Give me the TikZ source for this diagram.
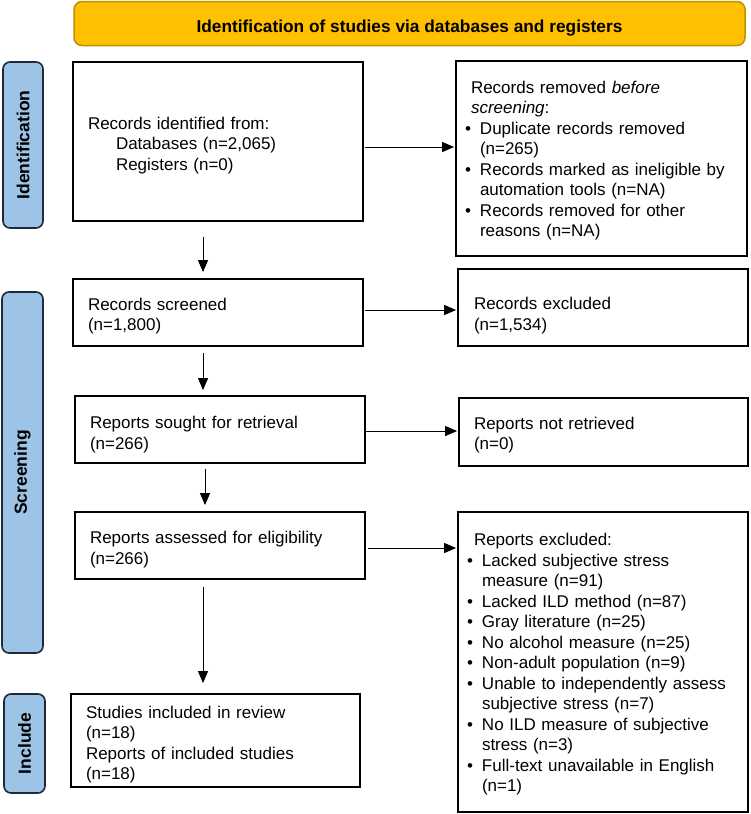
\documentclass[tikz,border=0pt]{standalone}
\usepackage{fontspec}
\setmainfont{Liberation Sans}
\usetikzlibrary{arrows.meta,calc}
\definecolor{gold}{HTML}{FFC000}
\definecolor{goldline}{HTML}{BF9000}
\definecolor{phasefill}{HTML}{9DC3E6}
\definecolor{phaseline}{HTML}{1F2A38}
\newcommand{\bul}[1]{\par\noindent\hangindent=15pt\hangafter=1\makebox[15pt][l]{\textbullet}#1\par}
\begin{document}
\begin{tikzpicture}[x=1pt,y=-1pt,
  every node/.style={font=\fontsize{17}{20.5}\selectfont},
  bx/.style={draw=black, line width=1.8pt, inner xsep=15pt, inner ysep=0pt, align=left,
    text height=20pt, execute at begin node={\parindent=0pt}},
  lst/.style={draw=black, line width=1.8pt, inner xsep=9pt, inner ysep=0pt, align=left,
    text height=17pt, execute at begin node={\parindent=0pt}},
  phase/.style={draw=phaseline, fill=phasefill, rounded corners=7pt, line width=1.6pt,
    rotate=90, inner sep=0pt, font=\fontsize{17.5}{20.5}\selectfont\bfseries},
  arr/.style={-{Triangle[length=12pt,width=10pt]}, line width=1pt, draw=black}
]
\useasboundingbox (0,0) rectangle (750,814);

% header
\node[draw=goldline, fill=gold, rounded corners=8pt, line width=1.5pt,
  minimum width=671pt, minimum height=44pt, inner sep=0pt, text height=21pt,
  font=\fontsize{17.3}{20}\selectfont\bfseries] (hdr) at (409.5,23.5)
  {Identification of studies via databases and registers};

% phase labels
\node[phase, minimum width=166pt, minimum height=40pt] (pid) at (23,145) {Identification};
\node[phase, minimum width=361pt, minimum height=41pt] (psc) at (22.5,472.5) {Screening};
\node[phase, minimum width=99pt, minimum height=41pt] (pin) at (24.5,743.5) {Include};

% left column
\node[bx, text width=260pt, minimum height=159pt] (b1) at (218,141.5)
  {Records identified from:\\\hspace*{28pt}Databases (n=2,065)\\\hspace*{28pt}Registers (n=0)};
\node[bx, text width=260pt, minimum height=67pt] (b2) at (218,312.5)
  {Records screened\\(n=1,800)};
\node[bx, text width=260pt, minimum height=67pt, text height=23pt] (b3) at (220,429.5)
  {Reports sought for retrieval\\(n=266)};
\node[bx, text width=260pt, minimum height=67pt, text height=21pt] (b4) at (220,545.5)
  {Reports assessed for eligibility\\(n=266)};
\node[bx, text width=259pt, minimum height=93pt, text height=21pt] (b5) at (215.5,740.5)
  {Studies included in review\\(n=18)\\Reports of included studies\\(n=18)};

% right column
\node[lst, text width=273pt, minimum height=195pt] (r1) at (601.5,158.5)
  {\hspace*{6pt}Records removed \textit{before}\newline\hspace*{6pt}\textit{screening}:\par
   \bul{Duplicate records removed\newline(n=265)}
   \bul{Records marked as ineligible by\newline automation tools (n=NA)}
   \bul{Records removed for other\newline reasons (n=NA)}};
\node[bx, inner xsep=16pt, text width=258pt, minimum height=77pt, text height=29pt] (r2) at (603,307.5)
  {Records excluded\\(n=1,534)};
\node[bx, text width=259pt, minimum height=68pt, text height=19pt] (r3) at (603.5,432)
  {Reports not retrieved\\(n=0)};
\node[lst, text width=272pt, minimum height=300pt] (r4) at (603,662)
  {\hspace*{7pt}Reports excluded:\par
   \bul{Lacked subjective stress\newline measure (n=91)}
   \bul{Lacked ILD method (n=87)}
   \bul{Gray literature (n=25)}
   \bul{No alcohol measure (n=25)}
   \bul{Non-adult population (n=9)}
   \bul{Unable to independently assess\newline subjective stress (n=7)}
   \bul{No ILD measure of subjective\newline stress (n=3)}
   \bul{Full-text unavailable in English\newline(n=1)}};

% horizontal connectors
\coordinate (h1) at (0,147);
\coordinate (h2) at (0,310);
\coordinate (h3) at (0,431);
\coordinate (h4) at (0,548);
\draw[arr, shorten <=1pt, shorten >=1pt] (b1.east |- h1) -- (r1.west |- h1);
\draw[arr, shorten <=1pt, shorten >=1pt] (b2.east |- h2) -- (r2.west |- h2);
\draw[arr, shorten >=1pt] (b3.east |- h3) -- (r3.west |- h3);
\draw[arr, shorten <=2pt, shorten >=1pt] (b4.east |- h4) -- (r4.west |- h4);

% vertical connectors
\coordinate (v1) at (203,0);
\coordinate (v3) at (205,0);
\draw[arr, shorten <=15pt, shorten >=6pt] (b1.south -| v1) -- (b2.north -| v1);
\draw[arr, shorten <=6pt, shorten >=5pt] (b2.south -| v1) -- (b3.north -| v1);
\draw[arr, shorten <=5pt, shorten >=6pt] (b3.south -| v3) -- (b4.north -| v3);
\draw[arr, shorten <=7pt, shorten >=10pt] (b4.south -| v1) -- (b5.north -| v1);
\end{tikzpicture}
\end{document}
